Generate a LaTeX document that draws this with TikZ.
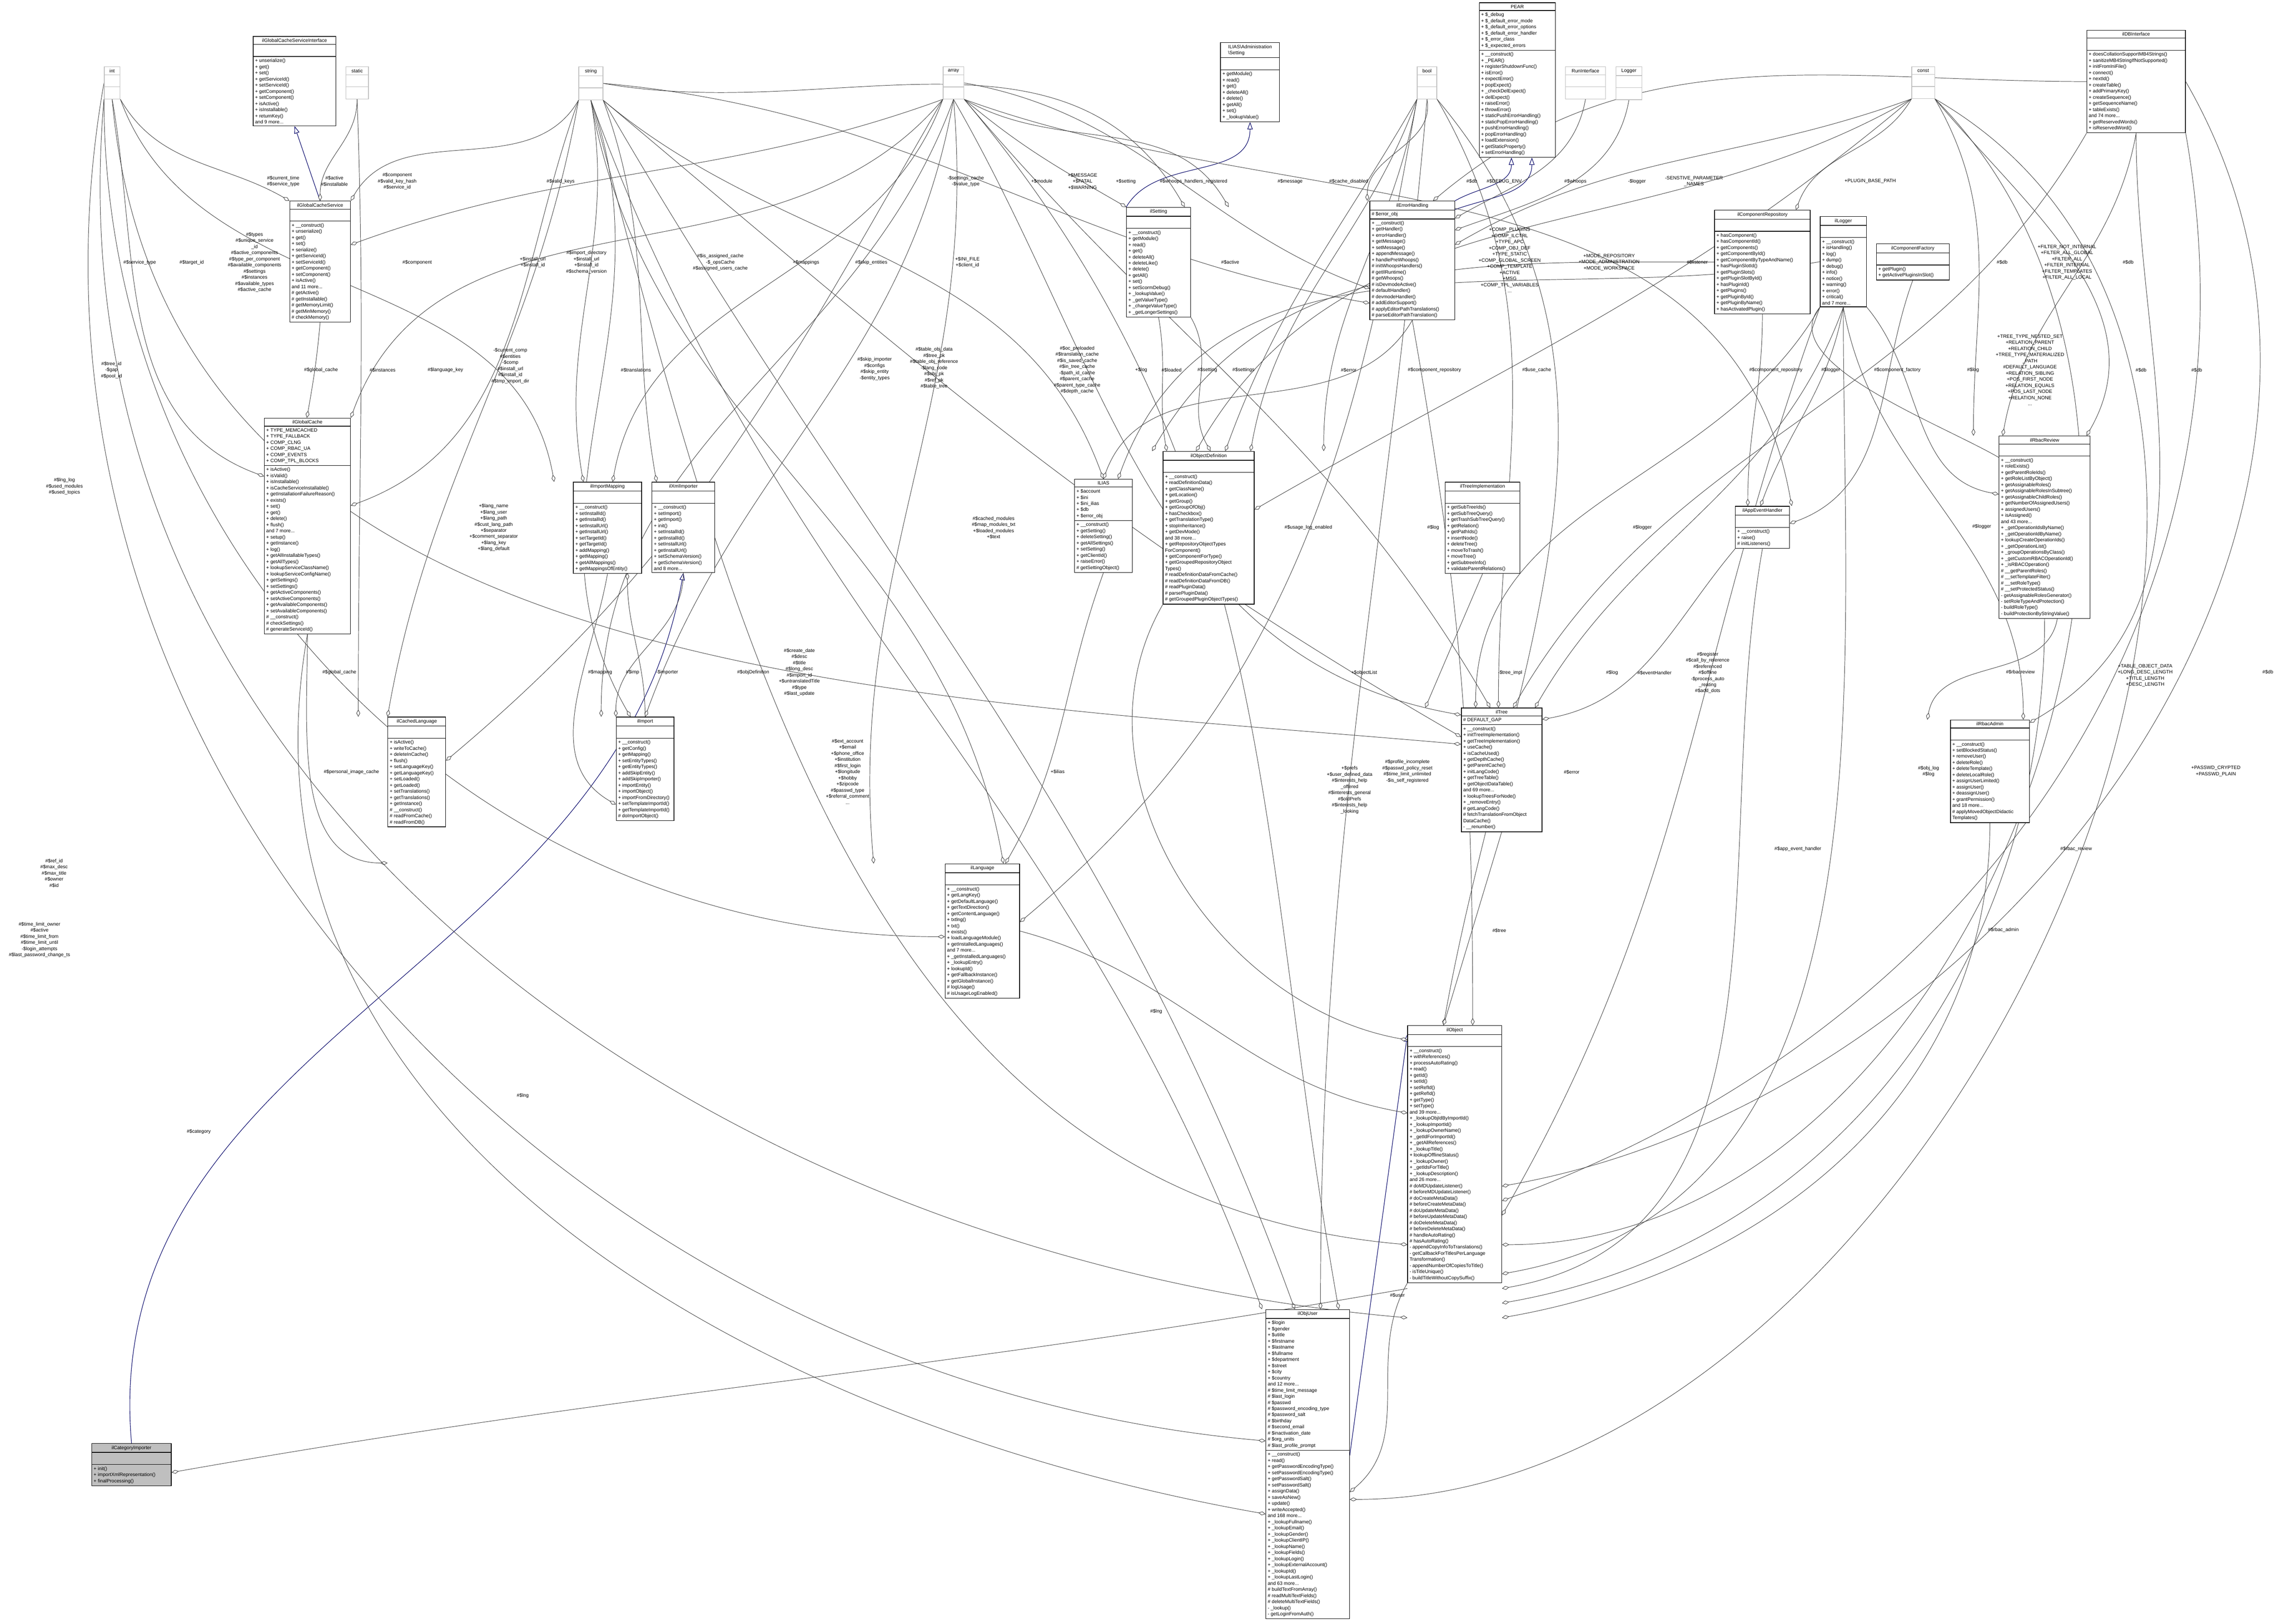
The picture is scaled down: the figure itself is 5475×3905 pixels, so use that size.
\documentclass[tikz,border=0pt]{standalone}
\usepackage{fontspec}
\setmainfont{Liberation Sans}
\usetikzlibrary{shapes.multipart,arrows.meta}
\pgfdeclarelayer{background}
\pgfsetlayers{background,main}
\newcommand\umlcls[6]{\node[cls,minimum width=#3*0.01cm] (#1) at (#2) {#4\nodepart{two}#5\nodepart{three}#6};}
\newcommand\umltyp[4]{\node[typ,minimum width=#3*0.01cm] (#1) at (#2) {#4\nodepart{two}\nodepart{three}};}
\newcommand\lbl[3]{\node[lab] (#1) at (#2) {#3};}
\tikzset{
 cls/.style={draw=black,line width=0.4pt,fill=white,rectangle split,rectangle split parts=3,
  rectangle split part align={center,left,left},rectangle split empty part height=0.14cm,
  align=left,anchor=north west,inner sep=1.3pt,font=\fontsize{3.3}{4.2}\selectfont},
 typ/.style={cls,draw=black!25,rectangle split empty part height=0.16cm},
 lab/.style={align=center,inner sep=0pt,font=\fontsize{3.3}{4.2}\selectfont},
 agg/.style={draw=black!75,line width=0.3pt,-{Diamond[open,fill=white,length=5pt,width=2.6pt]}},
 inh/.style={draw=blue!40!black,line width=0.35pt,-{Triangle[open,fill=white,length=5pt,width=3.6pt]}}
}
\begin{document}
\begin{tikzpicture}[x=0.01cm,y=-0.01cm]
\useasboundingbox (0,0) rectangle (5475,3905);
% type boxes
\umltyp{int}{250,160}{38}{int}
\umltyp{static}{831,160}{54}{static}
\umltyp{string}{1391,160}{58}{string}
\umltyp{array}{2267,160}{50}{array}
\umltyp{bool}{3407,160}{47}{bool}
\umltyp{runi}{3763,160}{97}{RunInterface}
\umltyp{logger}{3885,160}{62}{Logger}
\umltyp{const}{4596,160}{55}{const}
% classes
\umlcls{gcsi}{608,87}{199}{ilGlobalCacheServiceInterface}{}{+ unserialize()\\+ get()\\+ set()\\+ getServiceId()\\+ setServiceId()\\+ getComponent()\\+ setComponent()\\+ isActive()\\+ isInstallable()\\+ returnKey()\\and 9 more...}
\umlcls{gcs}{696,483}{146}{ilGlobalCacheService}{}{+ \_\_construct()\\+ unserialize()\\+ get()\\+ set()\\+ serialize()\\+ getServiceId()\\+ setServiceId()\\+ getComponent()\\+ setComponent()\\+ isActive()\\and 11 more...\\\# getActive()\\\# getInstallable()\\\# getMemoryLimit()\\\# getMinMemory()\\\# checkMemory()}
\umlcls{iasetting}{2934,102}{142}{ILIAS\textbackslash Administration\\\textbackslash Setting}{}{+ getModule()\\+ read()\\+ get()\\+ deleteAll()\\+ delete()\\+ getAll()\\+ set()\\+ \_lookupValue()}
\umlcls{setting}{2708,498}{154}{ilSetting}{}{+ \_\_construct()\\+ getModule()\\+ read()\\+ get()\\+ deleteAll()\\+ deleteLike()\\+ delete()\\+ getAll()\\+ set()\\+ setScormDebug()\\+ \_lookupValue()\\+ \_getValueType()\\+ \_changeValueType()\\+ \_getLongerSettings()}
\umlcls{pear}{3556,6}{183}{PEAR}{+ \$\_debug\\+ \$\_default\_error\_mode\\+ \$\_default\_error\_options\\+ \$\_default\_error\_handler\\+ \$\_error\_class\\+ \$\_expected\_errors}{+ \_\_construct()\\+ \_PEAR()\\+ registerShutdownFunc()\\+ isError()\\+ expectError()\\+ popExpect()\\+ \_checkDelExpect()\\+ delExpect()\\+ raiseError()\\+ throwError()\\+ staticPushErrorHandling()\\+ staticPopErrorHandling()\\+ pushErrorHandling()\\+ popErrorHandling()\\+ loadExtension()\\+ getStaticProperty()\\+ setErrorHandling()}
\umlcls{errh}{3293,483}{204}{ilErrorHandling}{\# \$error\_obj}{+ \_\_construct()\\+ getHandler()\\+ errorHandler()\\+ getMessage()\\+ setMessage()\\+ appendMessage()\\+ handlePreWhoops()\\\# initWhoopsHandlers()\\\# getIlRuntime()\\\# getWhoops()\\\# isDevmodeActive()\\\# defaultHandler()\\\# devmodeHandler()\\\# addEditorSupport()\\\# applyEditorPathTranslations()\\\# parseEditorPathTranslation()}
\umlcls{comprepo}{4122,505}{230}{ilComponentRepository}{}{+ hasComponent()\\+ hasComponentId()\\+ getComponents()\\+ getComponentById()\\+ getComponentByTypeAndName()\\+ hasPluginSlotId()\\+ getPluginSlots()\\+ getPluginSlotById()\\+ hasPluginId()\\+ getPlugins()\\+ getPluginById()\\+ getPluginByName()\\+ hasActivatedPlugin()}
\umlcls{illogger}{4376,520}{111}{ilLogger}{}{+ \_\_construct()\\+ isHandling()\\+ log()\\+ dump()\\+ debug()\\+ info()\\+ notice()\\+ warning()\\+ error()\\+ critical()\\and 7 more...}
\umlcls{compfac}{4511,586}{175}{ilComponentFactory}{}{+ getPlugin()\\+ getActivePluginsInSlot()}
\umlcls{dbi}{5017,72}{237}{ilDBInterface}{}{+ doesCollationSupportMB4Strings()\\+ sanitizeMB4StringIfNotSupported()\\+ initFromIniFile()\\+ connect()\\+ nextId()\\+ createTable()\\+ addPrimaryKey()\\+ createSequence()\\+ getSequenceName()\\+ tableExists()\\and 74 more...\\+ getReservedWords()\\+ isReservedWord()}
\umlcls{gc}{635,1005}{207}{ilGlobalCache}{+ TYPE\_MEMCACHED\\+ TYPE\_FALLBACK\\+ COMP\_CLNG\\+ COMP\_RBAC\_UA\\+ COMP\_EVENTS\\+ COMP\_TPL\_BLOCKS}{+ isActive()\\+ isValid()\\+ isInstallable()\\+ isCacheServiceInstallable()\\+ getInstallationFailureReason()\\+ exists()\\+ set()\\+ get()\\+ delete()\\+ flush()\\and 7 more...\\+ setup()\\+ getInstance()\\+ log()\\+ getAllInstallableTypes()\\+ getAllTypes()\\+ lookupServiceClassName()\\+ lookupServiceConfigName()\\+ getSettings()\\+ setSettings()\\+ getActiveComponents()\\+ setActiveComponents()\\+ getAvailableComponents()\\+ setAvailableComponents()\\\# \_\_construct()\\\# checkSettings()\\\# generateServiceId()}
\umlcls{imap}{1378,1159}{164}{ilImportMapping}{}{+ \_\_construct()\\+ setInstallId()\\+ getInstallId()\\+ setInstallUrl()\\+ getInstallUrl()\\+ setTargetId()\\+ getTargetId()\\+ addMapping()\\+ getMapping()\\+ getAllMappings()\\+ getMappingsOfEntity()}
\umlcls{xml}{1567,1159}{151}{ilXmlImporter}{}{+ \_\_construct()\\+ setImport()\\+ getImport()\\+ init()\\+ setInstallId()\\+ getInstallId()\\+ setInstallUrl()\\+ getInstallUrl()\\+ setSchemaVersion()\\+ getSchemaVersion()\\and 8 more...}
\umlcls{ilias}{2583,1152}{139}{ILIAS}{+ \$account\\+ \$ini\\+ \$ini\_ilias\\+ \$db\\+ \$error\_obj}{+ \_\_construct()\\+ getSetting()\\+ deleteSetting()\\+ getAllSettings()\\+ setSetting()\\+ getClientId()\\+ raiseError()\\\# getSettingObject()}
\umlcls{objdef}{2796,1085}{219}{ilObjectDefinition}{}{+ \_\_construct()\\+ readDefinitionData()\\+ getClassName()\\+ getLocation()\\+ getGroup()\\+ getGroupOfObj()\\+ hasCheckbox()\\+ getTranslationType()\\+ stopInheritance()\\+ getDevMode()\\and 38 more...\\+ getRepositoryObjectTypes\\ForComponent()\\+ getComponentForType()\\+ getGroupedRepositoryObject\\Types()\\\# readDefinitionDataFromCache()\\\# readDefinitionDataFromDB()\\\# readPluginData()\\\# parsePluginData()\\\# getGroupedPluginObjectTypes()}
\umlcls{treeimpl}{3474,1159}{180}{ilTreeImplementation}{}{+ getSubTreeIds()\\+ getSubTreeQuery()\\+ getTrashSubTreeQuery()\\+ getRelation()\\+ getPathIds()\\+ insertNode()\\+ deleteTree()\\+ moveToTrash()\\+ moveTree()\\+ getSubtreeInfo()\\+ validateParentRelations()}
\umlcls{appev}{4172,1217}{130}{ilAppEventHandler}{}{+ \_\_construct()\\+ raise()\\\# initListeners()}
\umlcls{rbacreview}{4806,1048}{219}{ilRbacReview}{}{+ \_\_construct()\\+ roleExists()\\+ getParentRoleIds()\\+ getRoleListByObject()\\+ getAssignableRoles()\\+ getAssignableRolesInSubtree()\\+ getAssignableChildRoles()\\+ getNumberOfAssignedUsers()\\+ assignedUsers()\\+ isAssigned()\\and 43 more...\\+ \_getOperationIdsByName()\\+ \_getOperationIdByName()\\+ lookupCreateOperationIds()\\+ \_getOperationList()\\+ \_groupOperationsByClass()\\+ \_getCustomRBACOperationId()\\+ \_isRBACOperation()\\\# \_\_getParentRoles()\\\# \_\_setTemplateFilter()\\\# \_\_setRoleType()\\\# \_\_setProtectedStatus()\\- getAssignableRolesGenerator()\\- setRoleTypeAndProtection()\\- buildRoleType()\\- buildProtectionByStringValue()}
\umlcls{cl}{932,1724}{139}{ilCachedLanguage}{}{+ isActive()\\+ writeToCache()\\+ deleteInCache()\\+ flush()\\+ setLanguageKey()\\+ getLanguageKey()\\+ setLoaded()\\+ getLoaded()\\+ setTranslations()\\+ getTranslations()\\+ getInstance()\\\# \_\_construct()\\\# readFromCache()\\\# readFromDB()}
\umlcls{import}{1481,1724}{139}{ilImport}{}{+ \_\_construct()\\+ getConfig()\\+ getMapping()\\+ setEntityTypes()\\+ getEntityTypes()\\+ addSkipEntity()\\+ addSkipImporter()\\+ importEntity()\\+ importObject()\\+ importFromDirectory()\\+ setTemplateImportId()\\+ getTemplateImportId()\\\# doImportObject()}
\umlcls{tree}{3513,1702}{194}{ilTree}{\# DEFAULT\_GAP}{+ \_\_construct()\\+ initTreeImplementation()\\+ getTreeImplementation()\\+ useCache()\\+ isCacheUsed()\\+ getDepthCache()\\+ getParentCache()\\+ initLangCode()\\+ getTreeTable()\\+ getObjectDataTable()\\and 69 more...\\+ lookupTreesForNode()\\+ \_removeEntry()\\\# getLangCode()\\\# fetchTranslationFromObject\\DataCache()\\- \_\_renumber()}
\umlcls{rbacadmin}{4689,1731}{190}{ilRbacAdmin}{}{+ \_\_construct()\\+ setBlockedStatus()\\+ removeUser()\\+ deleteRole()\\+ deleteTemplate()\\+ deleteLocalRole()\\+ assignUserLimited()\\+ assignUser()\\+ deassignUser()\\+ grantPermission()\\and 18 more...\\\# applyMovedObjectDidactic\\Templates()}
\umlcls{lang}{2272,2077}{179}{ilLanguage}{}{+ \_\_construct()\\+ getLangKey()\\+ getDefaultLanguage()\\+ getTextDirection()\\+ getContentLanguage()\\+ txtlng()\\+ txt()\\+ exists()\\+ loadLanguageModule()\\+ getInstalledLanguages()\\and 7 more...\\+ \_getInstalledLanguages()\\+ \_lookupEntry()\\+ lookupId()\\+ getFallbackInstance()\\+ getGlobalInstance()\\\# logUsage()\\\# isUsageLogEnabled()}
\umlcls{object}{3384,2466}{226}{ilObject}{}{+ \_\_construct()\\+ withReferences()\\+ processAutoRating()\\+ read()\\+ getId()\\+ setId()\\+ setRefId()\\+ getRefId()\\+ getType()\\+ setType()\\and 39 more...\\+ \_lookupObjIdByImportId()\\+ \_lookupImportId()\\+ \_lookupOwnerName()\\+ \_getIdForImportId()\\+ \_getAllReferences()\\+ \_lookupTitle()\\+ lookupOfflineStatus()\\+ \_lookupOwner()\\+ \_getIdsForTitle()\\+ \_lookupDescription()\\and 26 more...\\\# doMDUpdateListener()\\\# beforeMDUpdateListener()\\\# doCreateMetaData()\\\# beforeCreateMetaData()\\\# doUpdateMetaData()\\\# beforeUpdateMetaData()\\\# doDeleteMetaData()\\\# beforeDeleteMetaData()\\\# handleAutoRating()\\\# hasAutoRating()\\- appendCopyInfoToTranslations()\\- getCallbackForTitlesPerLanguage\\Transformation()\\- appendNumberOfCopiesToTitle()\\- isTitleUnique()\\- buildTitleWithoutCopySuffix()}
\umlcls{objuser}{3043,3149}{201}{ilObjUser}{+ \$login\\+ \$gender\\+ \$utitle\\+ \$firstname\\+ \$lastname\\+ \$fullname\\+ \$department\\+ \$street\\+ \$city\\+ \$country\\and 12 more...\\\# \$time\_limit\_message\\\# \$last\_login\\\# \$passwd\\\# \$password\_encoding\_type\\\# \$password\_salt\\\# \$birthday\\\# \$second\_email\\\# \$inactivation\_date\\\# \$org\_units\\\# \$last\_profile\_prompt}{+ \_\_construct()\\+ read()\\+ getPasswordEncodingType()\\+ setPasswordEncodingType()\\+ getPasswordSalt()\\+ setPasswordSalt()\\+ assignData()\\+ saveAsNew()\\+ update()\\+ writeAccepted()\\and 168 more...\\+ \_lookupFullname()\\+ \_lookupEmail()\\+ \_lookupGender()\\+ \_lookupClientIP()\\+ \_lookupName()\\+ \_lookupFields()\\+ \_lookupLogin()\\+ \_lookupExternalAccount()\\+ \_lookupId()\\+ \_lookupLastLogin()\\and 63 more...\\\# buildTextFromArray()\\\# readMultiTextFields()\\\# deleteMultiTextFields()\\- \_lookup()\\- getLoginFromAuth()}
\node[cls,fill=black!25,minimum width=1.91cm] (catimp) at (220,3471) {ilCategoryImporter\nodepart{two}\nodepart{three}+ init()\\+ importXmlRepresentation()\\+ finalProcessing()};
\begin{pgfonlayer}{background}
% inheritance
\draw[inh] (gcs.north) -- (gcsi.south);
\draw[inh] (setting.north west) to[out=60,in=-90] (iasetting.south);
\draw[inh] (errh.north east) to[out=30,in=-90] ([xshift=-4]pear.south);
\draw[inh] ([yshift=-6]errh.north east) to[out=20,in=-90] ([xshift=10]pear.south);
\draw[inh] (catimp.north) to[out=95,in=-100] (xml.south);
\draw[inh] ([yshift=-100]objuser.north east) -- ([yshift=170]object.south west);
% aggregations
\draw[agg] (int.south east) to[out=-60,in=150] (gcs.north west);
\draw[agg] (static.south) to[out=-90,in=90] (gcs.north);
\draw[agg] (string.south west) to[out=-120,in=60] (gcs.north east);
\draw[agg] (array.south west) to[out=-160,in=20] ([yshift=-30]gcs.north east);
\draw[agg] (int.south) to[out=-80,in=160] ([yshift=-40]gc.north west);
\draw[agg] (int.south east) to[out=-70,in=100] ([xshift=-60]imap.north east);
\draw[agg] (array.south west) to[out=-130,in=70] (gc.north east);
\draw[agg] (string.south west) to[out=-110,in=20] ([yshift=-60]gc.north east);
\draw[agg] (string.south) to[out=-80,in=100] ([xshift=-40]imap.north east);
\draw[agg] (string.south east) to[out=-70,in=100] ([xshift=-40]xml.north east);
\draw[agg] (string.south east) to[out=-60,in=110] ([xshift=20]objuser.north west);
\draw[agg] (array.south west) to[out=-110,in=80] ([xshift=-20]imap.north east);
\draw[agg] (array.south) to[out=-100,in=70] ([xshift=-20]import.north east);
\draw[agg] (string.south east) to[out=-40,in=110] (ilias.north);
\draw[agg] (array.south east) to[out=-40,in=150] (setting.north west);
\draw[agg] (string.east) to[out=-10,in=120] ([xshift=40]setting.north west);
\draw[agg] (array.south east) to[out=-30,in=120] ([xshift=70]setting.north west);
\draw[agg] (array.east) to[out=-10,in=160] ([yshift=-60]errh.north west);
\draw[agg] (string.east) to[out=-5,in=170] ([yshift=-70]errh.north west);
\draw[agg] (bool.south west) to[out=-120,in=70] ([xshift=-20]objdef.north east);
\draw[agg] (dbi.west) to[out=180,in=40] ([xshift=-15]errh.north east);
\draw[agg] (bool.south) to[out=-80,in=90] ([xshift=-60]errh.north east);
\draw[agg] (runi.south) to[out=-100,in=30] ([yshift=-12]errh.north east);
\draw[agg] (logger.south) to[out=-100,in=20] ([yshift=-20]errh.north east);
\draw[agg] (const.south west) to[out=-160,in=30] ([yshift=-30]errh.north east);
\draw[agg] (const.south west) to[out=-120,in=70] ([xshift=-10]comprepo.north east);
\draw[agg] (bool.south west) to[out=-110,in=80] ([xshift=60]objdef.north west);
\draw[agg] (const.south west) to[out=-150,in=60] ([xshift=-40]objdef.north east);
\draw[agg] (const.south west) to[out=-140,in=30] ([yshift=-40]objdef.north east);
\draw[agg] (array.south east) to[out=-20,in=100] ([xshift=20]appev.north);
\draw[agg] (dbi.south west) to[out=-120,in=60] ([xshift=-20]tree.north east);
\draw[agg] (const.south east) to[out=-60,in=90] ([xshift=-80]rbacreview.north east);
\draw[agg] (dbi.south) to[out=-100,in=80] ([xshift=-60]rbacreview.north east);
\draw[agg] (const.south east) to[out=-50,in=60] ([xshift=60]rbacreview.north west);
\draw[agg] (dbi.south) to[out=-90,in=30] ([yshift=-2]rbacadmin.north east);
\draw[agg] (dbi.south east) to[out=-80,in=20] ([yshift=-120]object.north east);
\draw[agg] (dbi.east) to[out=-60,in=10] ([yshift=-110]object.north east);
\draw[agg] (comprepo.south) to[out=-90,in=90] ([xshift=-10]appev.north);
\draw[agg] (illogger.south) to[out=-100,in=70] ([xshift=-20]appev.north east);
\draw[agg] (compfac.south) to[out=-110,in=20] ([yshift=-12]appev.north east);
\draw[agg] (illogger.south east) to[out=-50,in=170] ([yshift=-40]rbacreview.north west);
\draw[agg] (errh.south) to[out=-120,in=70] ([xshift=-20]ilias.north east);
\draw[agg] (comprepo.west) to[out=180,in=60] ([xshift=-70]objdef.north east);
\draw[agg] (bool.south east) to[out=-60,in=90] ([xshift=-30]tree.north east);
\draw[agg] (gcs.south) to[out=-95,in=80] ([xshift=-30]gc.north east);
\draw[agg] (static.south) to[out=-88,in=90] ([xshift=-60]cl.north east);
\draw[agg] (string.south west) to[out=-100,in=80] ([xshift=-40]cl.north east);
\draw[agg] (string.south) to[out=-70,in=120] ([xshift=10]import.north west);
\draw[agg] (array.south west) to[out=-120,in=40] ([yshift=-30]cl.north east);
\draw[agg] (array.south) to[out=-110,in=90] ([xshift=-50]import.north east);
\draw[agg] (string.south east) to[out=-40,in=150] ([yshift=-20]tree.north west);
\draw[agg] (array.south east) to[out=-50,in=120] ([xshift=20]tree.north west);
\draw[agg] (illogger.west) to[out=190,in=70] ([xshift=-10]ilias.north east);
\draw[agg] (bool.south west) to[out=-100,in=90] ([xshift=110]objdef.north west);
\draw[agg] (setting.south) to[out=-80,in=100] ([xshift=-60]objdef.north east);
\draw[agg] (setting.south east) to[out=-60,in=120] ([xshift=-30]objdef.north east);
\draw[agg] (string.south) to[out=-80,in=100] ([xshift=40]lang.north west);
\draw[agg] (array.south) to[out=-85,in=95] ([xshift=-100]lang.north east);
\draw[agg] (bool.south west) to[out=-100,in=40] ([yshift=-40]lang.north east);
\draw[agg] (illogger.south west) to[out=-120,in=90] ([xshift=10]tree.north west);
\draw[agg] (illogger.south west) to[out=-110,in=60] ([yshift=-130]object.north east);
\draw[agg] (gc.south) to[out=-90,in=180] ([yshift=-100]cl.north west);
\draw[agg] (imap.south) to[out=-100,in=150] ([yshift=-60]import.north west);
\draw[agg] (import.north) to[out=90,in=-90] ([xshift=-60]xml.south east);
\draw[agg] (xml.south) to[out=-90,in=90] ([xshift=-40]import.north east);
\draw[agg] (objdef.south west) to[out=-120,in=170] ([yshift=-10]object.north west);
\draw[agg] (string.south) to[out=-75,in=175] ([yshift=-150]object.north west);
\draw[agg] (array.south) to[out=-60,in=170] ([yshift=-5]tree.north west);
\draw[agg] (treeimpl.south) -- ([xshift=-80]tree.north east);
\draw[agg] (illogger.south) to[out=-110,in=60] ([xshift=-5]tree.north east);
\draw[agg] (appev.south west) to[out=-130,in=10] ([yshift=-8]tree.north east);
\draw[agg] (bool.south east) to[out=-50,in=80] ([xshift=-40]object.north east);
\draw[agg] (illogger.south west) to[out=-130,in=10] ([yshift=-35]rbacreview.north west);
\draw[agg] ([xshift=40]rbacreview.south west) to[out=-100,in=80] ([xshift=-70]rbacadmin.north east);
\draw[agg] (illogger.south) to[out=-80,in=90] ([xshift=50]rbacadmin.north west);
\draw[agg] (const.south east) to[out=-45,in=0] ([yshift=-150]object.north east);
\draw[agg] (gc.south) to[out=-100,in=170] ([yshift=-140]objuser.north west);
\draw[agg] (string.south) to[out=-70,in=110] ([xshift=-60]objuser.north east);
\draw[agg] (ilias.south) to[out=-110,in=60] ([xshift=-10]lang.north east);
\draw[agg] (array.south east) to[out=-50,in=100] ([xshift=50]objuser.north west);
\draw[agg] (bool.south) to[out=-95,in=90] ([xshift=-20]objuser.north east);
\draw[agg] (errh.south) to[out=-80,in=90] ([xshift=-20]object.north east);
\draw[agg] (illogger.south) to[out=-90,in=10] ([yshift=-170]object.north east);
\draw[agg] (appev.south) to[out=-100,in=10] ([yshift=-180]object.north east);
\draw[agg] (rbacreview.south) to[out=-90,in=10] ([yshift=-190]object.north east);
\draw[agg] (const.south east) to[out=-30,in=0] ([yshift=-130]objuser.north east);
\draw[agg] (rbacadmin.south) to[out=-90,in=10] ([yshift=-200]object.north east);
\draw[agg] (tree.south) -- ([xshift=-40]object.north east);
\draw[agg] (lang.east) to[out=-15,in=170] ([yshift=-60]object.north west);
\draw[agg] (object.south west) to[out=-120,in=40] ([yshift=-125]objuser.north east);
\draw[agg] ([yshift=-180]object.north west) to[out=190,in=10] ([yshift=-20]catimp.north east);
\draw[agg] (int.south west) to[out=-95,in=175] ([yshift=-200]object.north west);
\draw[agg] (int.west) to[out=-100,in=175] ([yshift=-90]objuser.north west);
\draw[agg] (int.south) to[out=-85,in=175] ([yshift=-25]tree.north west);
\draw[agg] (int.south west) to[out=-90,in=180] ([yshift=-50]lang.north west);
\end{pgfonlayer}
% labels
\lbl{l1}{681,436}{\#\$current\_time\\\#\$service\_type}
\lbl{l2}{804,436}{\#\$active\\\#\$installable}
\lbl{l3}{955,436}{\#\$component\\\#\$valid\_key\_hash\\\#\$service\_id}
\lbl{l4}{1348,436}{\#\$valid\_keys}
\lbl{l5}{336,631}{\#\$service\_type}
\lbl{l6}{461,631}{\#\$target\_id}
\lbl{l7}{612,631}{\#\$types\\\#\$unique\_service\\\_id\\\#\$active\_components\\\#\$type\_per\_component\\\#\$available\_components\\\#\$settings\\\#\$instances\\\#\$available\_types\\\#\$active\_cache}
\lbl{l8}{1003,631}{\#\$component}
\lbl{l9}{1281,631}{+\$install\_url\\+\$install\_id}
\lbl{l10}{1410,631}{\#\$import\_directory\\+\$install\_url\\+\$install\_id\\\#\$schema\_version}
\lbl{l11}{1732,631}{\#\$is\_assigned\_cache\\-\$\_opsCache\\\#\$assigned\_users\_cache}
\lbl{l12}{1938,631}{+\$mappings}
\lbl{l13}{2095,631}{\#\$skip\_entities}
\lbl{l14}{2326,631}{+\$INI\_FILE\\+\$client\_id}
\lbl{l15}{2322,436}{-\$settings\_cache\\-\$value\_type}
\lbl{l16}{2505,436}{+\$module}
\lbl{l17}{2603,436}{+\$MESSAGE\\+\$FATAL\\+\$WARNING}
\lbl{l18}{2707,436}{+\$setting}
\lbl{l19}{2870,436}{\#\$whoops\_handlers\_registered}
\lbl{l20}{3102,436}{\#\$message}
\lbl{l21}{3243,436}{\#\$cache\_disabled}
\lbl{l22}{3539,436}{\#\$db}
\lbl{l23}{3617,436}{\#\$DEBUG\_ENV}
\lbl{l24}{3788,436}{\#\$whoops}
\lbl{l25}{3936,436}{-\$logger}
\lbl{l26}{4073,436}{-SENSTIVE\_PARAMETER\\\_NAMES}
\lbl{l27}{4497,436}{+PLUGIN\_BASE\_PATH}
\lbl{l28}{2958,631}{\#\$active}
\lbl{l29}{3630,626}{+COMP\_PLUGINS\\+COMP\_ILCTRL\\+TYPE\_APC\\+COMP\_OBJ\_DEF\\+TYPE\_STATIC\\+COMP\_GLOBAL\_SCREEN\\+COMP\_TEMPLATE\\+ACTIVE\\+MSG\\+COMP\_TPL\_VARIABLES\\...}
\lbl{l30}{3869,631}{+MODE\_REPOSITORY\\+MODE\_ADMINISTRATION\\+MODE\_WORKSPACE}
\lbl{l31}{4081,631}{\#\$listener}
\lbl{l32}{4814,631}{\#\$db}
\lbl{l33}{4970,631}{+FILTER\_NOT\_INTERNAL\\+FILTER\_ALL\_GLOBAL\\+FILTER\_ALL\\+FILTER\_INTERNAL\\+FILTER\_TEMPLATES\\+FILTER\_ALL\_LOCAL}
\lbl{l34}{5117,631}{\#\$db}
\lbl{l35}{4881,890}{+TREE\_TYPE\_NESTED\_SET\\+RELATION\_PARENT\\+RELATION\_CHILD\\+TREE\_TYPE\_MATERIALIZED\\\_PATH\\\#DEFAULT\_LANGUAGE\\+RELATION\_SIBLING\\+POS\_FIRST\_NODE\\+RELATION\_EQUALS\\+POS\_LAST\_NODE\\+RELATION\_NONE\\...}
\lbl{l36}{5148,890}{\#\$db}
\lbl{l37}{5282,890}{\#\$db}
\lbl{l38}{5453,1616}{\#\$db}
\lbl{l39}{4270,890}{\#\$component\_repository}
\lbl{l40}{4402,890}{\#\$logger}
\lbl{l41}{4562,890}{\#\$component\_factory}
\lbl{l42}{4744,890}{\#\$log}
\lbl{l43}{3243,890}{\#\$error}
\lbl{l44}{3449,890}{\#\$component\_repository}
\lbl{l45}{3695,890}{\#\$use\_cache}
\lbl{l46}{772,890}{\#\$global\_cache}
\lbl{l47}{920,890}{\#\$instances}
\lbl{l48}{1071,890}{\#\$language\_key}
\lbl{l49}{1227,880}{-\$current\_comp\\\#\$entities\\-\$comp\\\#\$install\_url\\\#\$install\_id\\\#\$tmp\_import\_dir}
\lbl{l50}{1529,890}{\#\$translations}
\lbl{l51}{2103,887}{\#\$skip\_importer\\\#\$configs\\\#\$skip\_entity\\-\$entity\_types}
\lbl{l52}{2246,885}{\#\$table\_obj\_data\\\#\$tree\_pk\\\#\$table\_obj\_reference\\-\$lang\_code\\\#\$obj\_pk\\\#\$ref\_pk\\\#\$table\_tree}
\lbl{l53}{2590,890}{\#\$oc\_preloaded\\\#\$translation\_cache\\\#\$is\_saved\_cache\\\#\$in\_tree\_cache\\-\$path\_id\_cache\\\#\$parent\_cache\\\#\$parent\_type\_cache\\\#\$depth\_cache}
\lbl{l54}{2744,890}{+\$log}
\lbl{l55}{2817,890}{\#\$loaded}
\lbl{l56}{2903,890}{\#\$setting}
\lbl{l57}{2990,890}{\#\$settings}
\lbl{l58}{1187,1269}{+\$lang\_name\\+\$lang\_user\\+\$lang\_path\\\#\$cust\_lang\_path\\+\$separator\\+\$comment\_separator\\+\$lang\_key\\+\$lang\_default}
\lbl{l59}{2389,1269}{\#\$cached\_modules\\\#\$map\_modules\_txt\\+\$loaded\_modules\\+\$text}
\lbl{l60}{3146,1269}{\#\$usage\_log\_enabled}
\lbl{l61}{3446,1269}{\#\$log}
\lbl{l62}{3949,1269}{\#\$logger}
\lbl{l63}{816,1617}{\#\$global\_cache}
\lbl{l64}{1443,1617}{\#\$mapping}
\lbl{l65}{1521,1617}{\#\$imp}
\lbl{l66}{1604,1617}{-\$importer}
\lbl{l67}{1811,1617}{\#\$objDefinition}
\lbl{l68}{1922,1617}{\#\$create\_date\\\#\$desc\\\#\$title\\\#\$long\_desc\\\#\$import\_id\\+\$untranslatedTitle\\\#\$type\\\#\$last\_update}
\lbl{l69}{3280,1618}{+\$objectList}
\lbl{l70}{3631,1618}{-\$tree\_impl}
\lbl{l71}{3876,1618}{\#\$log}
\lbl{l72}{3978,1618}{\#\$eventHandler}
\lbl{l73}{4106,1618}{\#\$register\\\#\$call\_by\_reference\\\#\$referenced\\\#\$offline\\-\$process\_auto\\\_reating\\\#\$add\_dots}
\lbl{l74}{4765,1267}{\#\$logger}
\lbl{l75}{4858,1616}{\#\$rbacreview}
\lbl{l76}{5158,1625}{+TABLE\_OBJECT\_DATA\\+LONG\_DESC\_LENGTH\\+TITLE\_LENGTH\\+DESC\_LENGTH}
\lbl{l77}{845,1857}{\#\$personal\_image\_cache}
\lbl{l78}{2038,1856}{\#\$ext\_account\\+\$email\\+\$phone\_office\\+\$institution\\\#\$first\_login\\+\$longitude\\+\$hobby\\+\$zipcode\\\#\$passwd\_type\\+\$referral\_comment\\...}
\lbl{l79}{2543,1856}{+\$ilias}
\lbl{l80}{3245,1900}{+\$prefs\\+\$user\_defined\_data\\\#\$interests\_help\\\_offered\\\#\$interests\_general\\\#\$oldPrefs\\\#\$interests\_help\\\_looking}
\lbl{l81}{3384,1855}{\#\$profile\_incomplete\\\#\$passwd\_policy\_reset\\\#\$time\_limit\_unlimited\\-\$is\_self\_registered}
\lbl{l82}{3779,1857}{\#\$error}
\lbl{l83}{4637,1855}{\#\$obj\_log\\\#\$log}
\lbl{l84}{4323,2042}{\#\$app\_event\_handler}
\lbl{l85}{4992,2042}{\#\$rbac\_review}
\lbl{l86}{5328,1855}{+PASSWD\_CRYPTED\\+PASSWD\_PLAIN}
\lbl{l87}{4817,2237}{\#\$rbac\_admin}
\lbl{l88}{3605,2238}{\#\$tree}
\lbl{l89}{2780,2433}{\#\$lng}
\lbl{l90}{3360,3115}{\#\$user}
\lbl{l91}{478,2722}{\#\$category}
\lbl{l92}{130,2100}{\#\$ref\_id\\\#\$max\_desc\\\#\$max\_title\\\#\$owner\\\#\$id}
\lbl{l93}{95,2260}{\#\$time\_limit\_owner\\\#\$active\\\#\$time\_limit\_from\\\#\$time\_limit\_until\\-\$login\_attempts\\\#\$last\_password\_change\_ts}
\lbl{l94}{268,890}{\#\$tree\_id\\-\$gap\\\#\$pool\_id}
\lbl{l95}{155,1170}{\#\$lng\_log\\\#\$used\_modules\\\#\$used\_topics}
\lbl{l96}{1257,2635}{\#\$lng}
\end{tikzpicture}
\end{document}
